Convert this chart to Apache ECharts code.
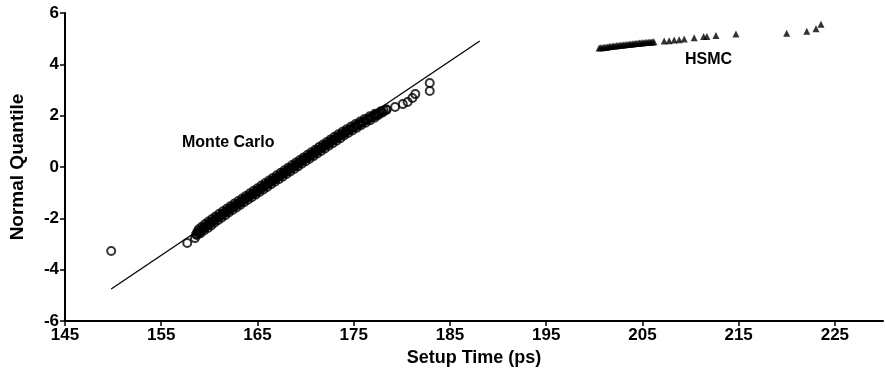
<!DOCTYPE html>
<html>
<head>
<meta charset="utf-8">
<script src="https://cdn.jsdelivr.net/npm/echarts@6/dist/echarts.min.js"></script>
<style>html,body{margin:0;padding:0;background:#fff}#c{width:885px;height:381px}</style>
</head>
<body>
<div id="c"></div>
<script>
// Axis ticks
var xTicks = [145, 155, 165, 175, 185, 195, 205, 215, 225];
var yTicks = [-6, -4, -2, 0, 2, 4, 6];

// Monte Carlo samples (centre of the dense band + isolated tail points)
var mcTime = [149.8, 157.7, 158.5,
  158.72, 158.82, 158.94, 159.07, 159.22, 159.37, 159.53, 159.70, 159.87, 160.04,
  160.22, 160.40, 160.58, 160.77, 160.96, 161.15, 161.34, 161.52, 161.72, 161.91,
  162.11, 162.31, 162.51, 162.71, 162.91, 163.11, 163.31, 163.51, 163.71, 163.91,
  164.11, 164.31, 164.51, 164.71, 164.91, 165.11, 165.31, 165.51, 165.71, 165.91,
  166.11, 166.30, 166.50, 166.70, 166.90, 167.10, 167.30, 167.50, 167.70, 167.90,
  168.10, 168.30, 168.50, 168.70, 168.90, 169.10, 169.30, 169.50, 169.70, 169.90,
  170.10, 170.30, 170.50, 170.70, 170.90, 171.10, 171.29, 171.49, 171.69, 171.89,
  172.09, 172.29, 172.49, 172.69, 172.89, 173.09, 173.29, 173.49, 173.70, 173.91,
  174.13, 174.35, 174.57, 174.79, 175.01, 175.24, 175.47, 175.71, 175.95, 176.19,
  176.43, 176.66, 176.90, 177.14, 177.38, 177.63, 177.88, 178.13, 178.38,
  179.3, 180.1, 180.6, 181.1, 181.4, 182.9, 182.9];
var mcQuantile = [-3.27, -2.96, -2.77,
  -2.65, -2.60, -2.55, -2.50, -2.45, -2.40, -2.35, -2.30, -2.25, -2.20,
  -2.15, -2.10, -2.05, -2.00, -1.95, -1.90, -1.85, -1.80, -1.75, -1.70,
  -1.65, -1.60, -1.55, -1.50, -1.45, -1.40, -1.35, -1.30, -1.25, -1.20,
  -1.15, -1.10, -1.05, -1.00, -0.95, -0.90, -0.85, -0.80, -0.75, -0.70,
  -0.65, -0.60, -0.55, -0.50, -0.45, -0.40, -0.35, -0.30, -0.25, -0.20,
  -0.15, -0.10, -0.05, 0.00, 0.05, 0.10, 0.15, 0.20, 0.25, 0.30,
  0.35, 0.40, 0.45, 0.50, 0.55, 0.60, 0.65, 0.70, 0.75, 0.80,
  0.85, 0.90, 0.95, 1.00, 1.05, 1.10, 1.15, 1.20, 1.25, 1.30,
  1.35, 1.40, 1.45, 1.50, 1.55, 1.60, 1.65, 1.70, 1.75, 1.80,
  1.85, 1.90, 1.95, 2.00, 2.05, 2.10, 2.15, 2.20, 2.25,
  2.34, 2.45, 2.53, 2.69, 2.84, 2.96, 3.27];

// Monte Carlo samples spread across the width of the dense band
var mcTime2 = [158.62, 159.08, 158.76, 159.45, 158.90, 159.85, 159.22, 160.19, 159.56, 160.53,
  159.91, 160.89, 160.28, 161.27, 160.66, 161.65, 161.03, 162.02, 161.42, 162.41,
  161.81, 162.81, 162.21, 163.21, 162.61, 163.61, 163.01, 164.01, 163.41, 164.41,
  163.81, 164.81, 164.21, 165.21, 164.61, 165.61, 165.01, 166.01, 165.41, 166.41,
  165.81, 166.81, 166.21, 167.21, 166.61, 167.61, 167.01, 168.01, 167.41, 168.41,
  167.81, 168.81, 168.21, 169.21, 168.61, 169.61, 169.01, 170.01, 169.41, 170.41,
  169.81, 170.81, 170.21, 171.21, 170.61, 171.61, 171.01, 172.01, 171.41, 172.41,
  171.81, 172.81, 172.21, 173.21, 172.61, 173.61, 173.01, 174.00, 173.41, 174.42,
  173.84, 174.86, 174.28, 175.30, 174.73, 175.76, 175.19, 176.23, 175.67, 176.71,
  176.15, 177.18, 176.67, 177.56, 177.21, 178.01, 177.81, 178.41];
var mcQuantile2 = [-2.625, -2.575, -2.525, -2.475, -2.425, -2.375, -2.325, -2.275, -2.225, -2.175,
  -2.125, -2.075, -2.025, -1.975, -1.925, -1.875, -1.825, -1.775, -1.725, -1.675,
  -1.625, -1.575, -1.525, -1.475, -1.425, -1.375, -1.325, -1.275, -1.225, -1.175,
  -1.125, -1.075, -1.025, -0.975, -0.925, -0.875, -0.825, -0.775, -0.725, -0.675,
  -0.625, -0.575, -0.525, -0.475, -0.425, -0.375, -0.325, -0.275, -0.225, -0.175,
  -0.125, -0.075, -0.025, 0.025, 0.075, 0.125, 0.175, 0.225, 0.275, 0.325,
  0.375, 0.425, 0.475, 0.525, 0.575, 0.625, 0.675, 0.725, 0.775, 0.825,
  0.875, 0.925, 0.975, 1.025, 1.075, 1.125, 1.175, 1.225, 1.275, 1.325,
  1.375, 1.425, 1.475, 1.525, 1.575, 1.625, 1.675, 1.725, 1.775, 1.825,
  1.875, 1.925, 1.975, 2.025, 2.075, 2.125, 2.175, 2.225];

// Monte Carlo reference (fit) line end points
var fitTime = [149.8, 188.1];
var fitQuantile = [-4.75, 4.91];

// HSMC samples
var hsmcTime = [200.50, 200.65, 200.80, 200.95, 201.10, 201.25, 201.40, 201.55, 201.70, 201.85,
  202.00, 202.15, 202.30, 202.45, 202.60, 202.75, 202.90, 203.05, 203.20, 203.35,
  203.50, 203.65, 203.80, 203.95, 204.10, 204.25, 204.40, 204.55, 204.70, 204.85,
  205.00, 205.15, 205.30, 205.45, 205.60, 205.75, 205.90, 206.05, 206.20,
  207.26, 207.78, 208.30, 208.82, 209.34, 210.38, 211.36, 211.70, 212.64, 214.72,
  219.99, 222.08, 223.04, 223.56];
var hsmcQuantile = [4.64, 4.65, 4.65, 4.66, 4.67, 4.67, 4.68, 4.69, 4.69, 4.70,
  4.71, 4.71, 4.72, 4.73, 4.73, 4.74, 4.75, 4.75, 4.76, 4.77,
  4.77, 4.78, 4.79, 4.79, 4.80, 4.81, 4.81, 4.82, 4.83, 4.83,
  4.84, 4.84, 4.85, 4.85, 4.86, 4.86, 4.87, 4.87, 4.88,
  4.91, 4.92, 4.95, 4.96, 4.99, 5.04, 5.08, 5.08, 5.12, 5.18,
  5.21, 5.29, 5.39, 5.56];

function pairs(a, b) { return a.map(function (v, i) { return [v, b[i]]; }); }

var FONT = '"Liberation Sans", Arial, sans-serif';
var chart = echarts.init(document.getElementById('c'), null, {renderer: 'canvas'});
chart.setOption({
  animation: false,
  backgroundColor: '#ffffff',
  grid: {left: 65, right: 2, top: 13, bottom: 60, containLabel: false},
  xAxis: {
    type: 'value', min: 145, max: 230, interval: 10,
    name: 'Setup Time (ps)', nameLocation: 'middle', nameGap: 26,
    nameTextStyle: {fontFamily: FONT, fontWeight: 'bold', fontSize: 18, color: '#000'},
    axisLine: {onZero: false, lineStyle: {color: '#000', width: 2}},
    axisTick: {show: true, length: 5, lineStyle: {color: '#000', width: 1.5}, customValues: xTicks},
    axisLabel: {customValues: xTicks, fontFamily: FONT, fontWeight: 'bold', fontSize: 17, color: '#000', margin: 6},
    splitLine: {show: false}
  },
  yAxis: {
    type: 'value', min: -6, max: 6, interval: 2,
    name: 'Normal Quantile', nameLocation: 'middle', nameGap: 38,
    nameTextStyle: {fontFamily: FONT, fontWeight: 'bold', fontSize: 19, color: '#000'},
    axisLine: {onZero: false, lineStyle: {color: '#000', width: 2}},
    axisTick: {show: true, length: 5, lineStyle: {color: '#000', width: 1.5}, customValues: yTicks},
    axisLabel: {customValues: yTicks, fontFamily: FONT, fontWeight: 'bold', fontSize: 17, color: '#000', margin: 6},
    splitLine: {show: false}
  },
  series: [
    {
      name: 'fit', type: 'line', data: pairs(fitTime, fitQuantile),
      showSymbol: false, symbol: 'none', z: 1,
      lineStyle: {color: '#000', width: 1.3}
    },
    {
      name: 'Monte Carlo', type: 'scatter', z: 2,
      data: pairs(mcTime, mcQuantile).concat(pairs(mcTime2, mcQuantile2)),
      symbol: 'circle', symbolSize: 8, large: false,
      itemStyle: {color: 'rgba(255,255,255,0)', borderColor: '#000', borderWidth: 2}
    },
    {
      name: 'HSMC', type: 'scatter', data: pairs(hsmcTime, hsmcQuantile), z: 2,
      symbol: 'triangle', symbolSize: 7,
      itemStyle: {color: '#000'}
    }
  ],
  graphic: [
    {type: 'text', left: 182, top: 135, style: {text: 'Monte Carlo', font: 'bold 16px ' + FONT, fill: '#000'}},
    {type: 'text', left: 685, top: 52, style: {text: 'HSMC', font: 'bold 16px ' + FONT, fill: '#000'}}
  ]
});
</script>
</body>
</html>
